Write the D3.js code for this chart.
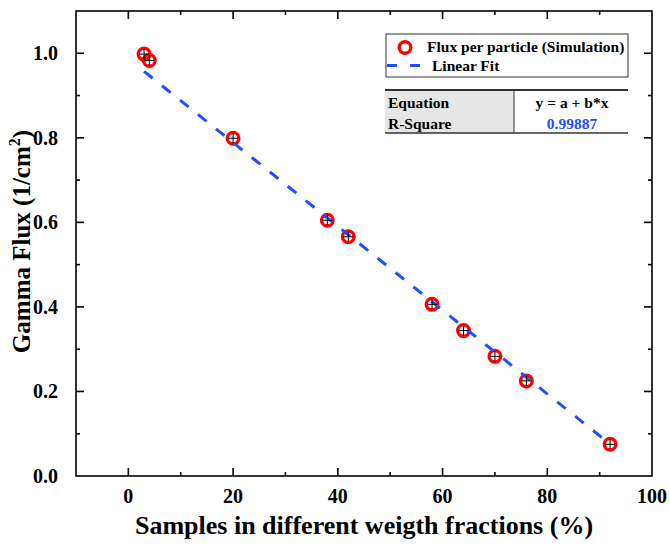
<!DOCTYPE html>
<html>
<head>
<meta charset="utf-8">
<script src="https://cdn.jsdelivr.net/npm/d3@7.9.0/dist/d3.min.js"></script>
<style>
  body { margin: 0; background: #fff; }
  svg text { font-family: "Liberation Serif", "Times New Roman", serif; font-weight: bold; }
</style>
</head>
<body>
<svg id="chart" width="670" height="547"></svg>
<script>
// weight fraction (%) and simulated flux per particle
const fractions = [3, 4, 20, 38, 42, 58, 64, 70, 76, 92];
const flux = [0.998, 0.983, 0.799, 0.605, 0.566, 0.406, 0.344, 0.283, 0.225, 0.075];
// fitted line as drawn (y = a + b*x)
const fitIntercept = 0.987;
const fitSlope = -0.00991;
const xTicks = [0, 20, 40, 60, 80, 100];
const yTicks = [0.0, 0.2, 0.4, 0.6, 0.8, 1.0];
const rSquare = '0.99887';

const svg = d3.select('#chart');
const plotL = 76, plotR = 652, plotT = 11, plotB = 476;

const x = d3.scaleLinear().domain([-10, 100]).range([plotL, plotR]);
const y = d3.scaleLinear().domain([0, 1.1]).range([plotB, plotT]);

const points = fractions.map((f, i) => ({ x: f, y: flux[i] }));
const fitX = [d3.min(fractions), d3.max(fractions)];

// frame
svg.append('rect')
  .attr('x', plotL).attr('y', plotT)
  .attr('width', plotR - plotL).attr('height', plotB - plotT)
  .attr('fill', 'none').attr('stroke', '#000').attr('stroke-width', 1.6);

// ticks (inward, mirrored)
const xMinor = d3.range(-10, 101, 10).filter(v => v > -10 && v < 100 && !xTicks.includes(v));
const yMinor = d3.range(1, 11, 2).map(v => v / 10);

function tickLines(vals, len) {
  vals.forEach(v => {
    svg.append('line').attr('x1', x(v)).attr('x2', x(v)).attr('y1', plotB).attr('y2', plotB - len)
      .attr('stroke', '#000').attr('stroke-width', 1.6);
    svg.append('line').attr('x1', x(v)).attr('x2', x(v)).attr('y1', plotT).attr('y2', plotT + len)
      .attr('stroke', '#000').attr('stroke-width', 1.6);
  });
}
function tickLinesY(vals, len) {
  vals.forEach(v => {
    svg.append('line').attr('y1', y(v)).attr('y2', y(v)).attr('x1', plotL).attr('x2', plotL + len)
      .attr('stroke', '#000').attr('stroke-width', 1.6);
    svg.append('line').attr('y1', y(v)).attr('y2', y(v)).attr('x1', plotR).attr('x2', plotR - len)
      .attr('stroke', '#000').attr('stroke-width', 1.6);
  });
}
tickLines(xTicks.filter(v => v < 100), 8);
tickLines(xMinor, 4);
tickLinesY(yTicks.filter(v => v > 0), 8);
tickLinesY(yMinor, 4);

svg.selectAll('.xl').data(xTicks).join('text')
  .attr('x', d => x(d)).attr('y', 503)
  .attr('text-anchor', 'middle').attr('font-size', 20)
  .text(d => d);

svg.selectAll('.yl').data(yTicks).join('text')
  .attr('x', 58).attr('y', d => y(d) + 7)
  .attr('text-anchor', 'end').attr('font-size', 20)
  .text(d => d3.format('.1f')(d));

// axis titles
svg.append('text')
  .attr('x', (plotL + plotR) / 2).attr('y', 534)
  .attr('text-anchor', 'middle').attr('font-size', 26)
  .text('Samples in different weigth fractions (%)');

const yt = svg.append('text')
  .attr('transform', `translate(30,${(plotT + plotB) / 2 - 2}) rotate(-90)`)
  .attr('text-anchor', 'middle').attr('font-size', 25);
yt.append('tspan').text('Gamma Flux (1/cm');
yt.append('tspan').attr('dy', -10).attr('font-size', 16).text('2');
yt.append('tspan').attr('dy', 10).text(')');

// markers
const mk = svg.append('g');
mk.selectAll('circle').data(points).join('circle')
  .attr('cx', d => x(d.x)).attr('cy', d => y(d.y)).attr('r', 5.8)
  .attr('fill', 'none').attr('stroke', '#ff0000').attr('stroke-width', 3.4);

// fit line
svg.append('path')
  .datum(fitX)
  .attr('d', d3.line().x(d => x(d)).y(d => y(fitIntercept + fitSlope * d)))
  .attr('fill', 'none').attr('stroke', '#1f4eff').attr('stroke-width', 3)
  .attr('stroke-dasharray', '11,12');

// crosshairs
points.forEach(d => {
  const cx = x(d.x), cy = y(d.y);
  svg.append('line').attr('x1', cx - 5).attr('x2', cx + 5).attr('y1', cy).attr('y2', cy)
    .attr('stroke', '#000').attr('stroke-width', 1);
  svg.append('line').attr('x1', cx).attr('x2', cx).attr('y1', cy - 5).attr('y2', cy + 5)
    .attr('stroke', '#000').attr('stroke-width', 1);
});

// legend
const lg = svg.append('g');
lg.append('rect').attr('x', 386).attr('y', 34).attr('width', 242).attr('height', 43)
  .attr('fill', '#fff').attr('stroke', '#333').attr('stroke-width', 1);
lg.append('circle').attr('cx', 405).attr('cy', 47.5).attr('r', 5.8)
  .attr('fill', 'none').attr('stroke', '#ff0000').attr('stroke-width', 3.4);
lg.append('line').attr('x1', 387).attr('x2', 423).attr('y1', 65.5).attr('y2', 65.5)
  .attr('stroke', '#1f4eff').attr('stroke-width', 3).attr('stroke-dasharray', '10,13');
lg.append('text').attr('x', 427).attr('y', 52).attr('font-size', 15.5).text('Flux per particle (Simulation)');
lg.append('text').attr('x', 432).attr('y', 71).attr('font-size', 15.5).text('Linear Fit');

// fit table
const tb = svg.append('g');
tb.append('rect').attr('x', 385).attr('y', 90).attr('width', 129).attr('height', 43).attr('fill', '#e6e6e6');
tb.append('line').attr('x1', 385).attr('x2', 628).attr('y1', 90).attr('y2', 90).attr('stroke', '#333').attr('stroke-width', 1.8);
tb.append('line').attr('x1', 385).attr('x2', 628).attr('y1', 133).attr('y2', 133).attr('stroke', '#333').attr('stroke-width', 1.4);
tb.append('line').attr('x1', 514).attr('x2', 514).attr('y1', 90).attr('y2', 133).attr('stroke', '#333').attr('stroke-width', 1);
tb.append('text').attr('x', 388).attr('y', 108).attr('font-size', 15.5).text('Equation');
tb.append('text').attr('x', 388).attr('y', 128.5).attr('font-size', 15.5).text('R-Square');
tb.append('text').attr('x', 572).attr('y', 108).attr('font-size', 15.5).attr('text-anchor', 'middle').text('y = a + b*x');
tb.append('text').attr('x', 572).attr('y', 128.5).attr('font-size', 15.5).attr('text-anchor', 'middle')
  .attr('fill', '#1f4eff').text(rSquare);
</script>
</body>
</html>
